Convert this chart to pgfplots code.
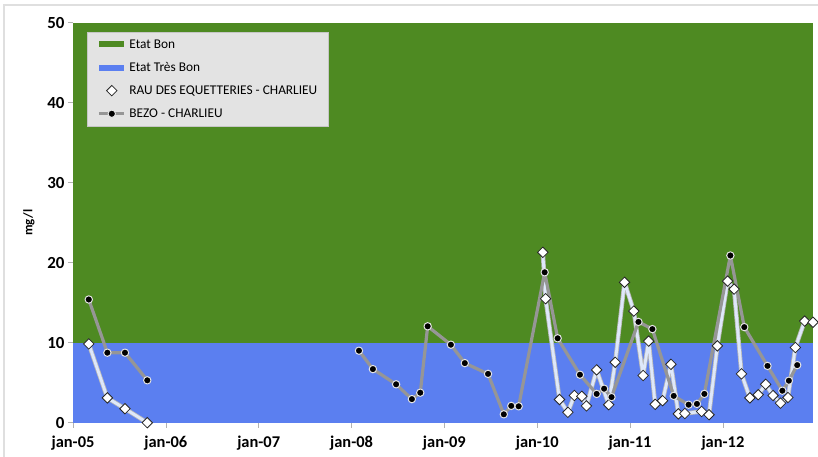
\documentclass[border=0pt]{standalone}
\usepackage{fontspec}
\setmainfont{Carlito}
\usepackage{pgfplots}
\pgfplotsset{compat=1.18}
\usepackage{pgfplotstable}
\definecolor{bongreen}{RGB}{78,138,34}
\definecolor{tbblue}{RGB}{91,127,240}
\definecolor{bezoline}{RGB}{150,150,150}
\definecolor{rauline}{RGB}{222,232,250}

\pgfplotstableread{
x y
2005.17 15.4
2005.37 8.75
2005.56 8.75
2005.80 5.3
2007.00 nan
2008.08 9.0
2008.23 6.7
2008.48 4.8
2008.65 2.95
2008.74 3.75
2008.82 12.05
2009.07 9.75
2009.22 7.45
2009.47 6.1
2009.64 1.05
2009.72 2.1
2009.80 2.05
2010.08 18.8
2010.22 10.55
2010.46 6.0
2010.64 3.6
2010.72 4.25
2010.80 3.2
2011.09 12.6
2011.24 11.7
2011.47 3.35
2011.63 2.25
2011.72 2.35
2011.80 3.6
2012.08 20.9
2012.23 11.95
2012.48 7.1
2012.64 4.0
2012.71 5.25
2012.80 7.2
}\bezo

\pgfplotstableread{
x y
2005.17 9.85
2005.37 3.1
2005.56 1.75
2005.80 0.0
2007.00 nan
2010.06 21.3
2010.09 15.5
2010.24 2.9
2010.33 1.3
2010.40 3.4
2010.48 3.3
2010.53 2.1
2010.64 6.6
2010.77 2.25
2010.84 7.55
2010.94 17.55
2011.04 13.95
2011.14 5.9
2011.20 10.2
2011.27 2.3
2011.35 2.75
2011.44 7.3
2011.52 1.1
2011.59 1.15
2011.77 1.4
2011.85 1.0
2011.94 9.6
2012.05 17.7
2012.12 16.7
2012.20 6.1
2012.29 3.1
2012.38 3.5
2012.46 4.8
2012.54 3.4
2012.62 2.45
2012.70 3.15
2012.78 9.4
2012.88 12.7
2012.97 12.55
}\rau

\begin{document}
\begin{tikzpicture}
\path[use as bounding box] (-73bp,-34.3bp) rectangle (745bp,422.7bp);
\draw[gray!25, line width=1.2bp] (-69bp,-34.3bp) -- (-69bp,417.7bp) -- (745bp,417.7bp);
\begin{axis}[
  scale only axis, width=740bp, height=400bp,
  at={(0,0)}, anchor=south west,
  xmin=2005, xmax=2012.97, ymin=0, ymax=50,
  xtick={2005,2006,2007,2008,2009,2010,2011,2012},
  xticklabels={jan-05,jan-06,jan-07,jan-08,jan-09,jan-10,jan-11,jan-12},
  ytick={0,10,20,30,40,50},
  axis line style={draw=none},
  tick align=outside, tick pos=left,
  major tick length=5bp,
  tick style={gray!60, line width=0.6bp},
  xticklabel style={font=\bfseries\fontsize{16.5}{18}\selectfont, yshift=-5bp},
  yticklabel style={font=\bfseries\fontsize{17}{19}\selectfont},
  /pgf/number format/assume math mode=true,
  ylabel={mg/l},
  ylabel style={font=\bfseries\fontsize{13}{15}\selectfont, at={(axis description cs:-0.0595,0.5)}, anchor=center},
  clip=false,
  unbounded coords=jump,
  legend cell align=left,
  legend style={at={(axis description cs:0,1)}, anchor=north west,
    xshift=14bp, yshift=-9.3bp,
    fill=gray!22, draw=gray!45,
    font=\fontsize{13.4}{16}\selectfont,
    inner xsep=10bp, inner ysep=5bp,
    row sep=8.6bp,
    nodes={inner sep=1bp, text height=10bp, text depth=2.5bp},
    /tikz/every odd column/.append style={column sep=3bp},
    /tikz/every even column/.append style={column sep=0bp}},
]
\addplot[fill=bongreen, draw=none,
  legend image code/.code={\fill[bongreen] (0bp,-3bp) rectangle (25bp,3bp);}]
  coordinates {(2005,10) (2012.97,10) (2012.97,50) (2005,50)} -- cycle;
\addlegendentry{Etat Bon}
\addplot[fill=tbblue, draw=none,
  legend image code/.code={\fill[tbblue] (0bp,-3bp) rectangle (25bp,3bp);}]
  coordinates {(2005,0) (2012.97,0) (2012.97,10) (2005,10)} -- cycle;
\addlegendentry{Etat Très Bon}

\addplot[forget plot, draw=gray!55, line width=4.4bp, line join=round] table[x=x,y=y] {\rau};
\addplot[forget plot, draw=rauline, line width=2.8bp, line join=round] table[x=x,y=y] {\rau};
\addplot[only marks, mark=square*, mark size=3.7bp,
  mark options={rotate=45, fill=white, draw=gray!30!black, line width=0.8bp},
  legend image code/.code={\draw[mark repeat=2,mark phase=2] plot coordinates {(0bp,0bp) (13bp,0bp) (25bp,0bp)};}]
  table[x=x,y=y] {\rau};
\addlegendentry{RAU DES EQUETTERIES - CHARLIEU}

\addplot[draw=bezoline, line width=3.2bp, line join=round,
  mark=*, mark size=3.7bp,
  mark options={fill=black, draw=gray!20, line width=1bp},
  legend image code/.code={\draw[mark repeat=2,mark phase=2] plot coordinates {(0bp,0bp) (13bp,0bp) (25bp,0bp)};}]
  table[x=x,y=y] {\bezo};
\addlegendentry{BEZO - CHARLIEU}
\end{axis}
\end{tikzpicture}
\end{document}
